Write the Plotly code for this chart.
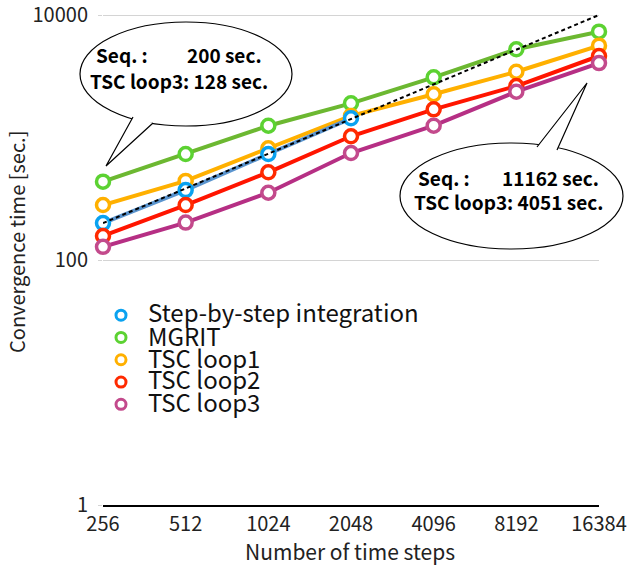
import math
import plotly.graph_objects as go

steps = [256, 512, 1024, 2048, 4096, 8192, 16384]
step_labels = ["256", "512", "1024", "2048", "4096", "8192", "16384"]

step_by_step = [200, 372, 733, 1435]
mgrit = [436, 733, 1248, 1901, 3100, 5250, 7310]
tsc_loop1 = [281, 442, 817, 1500, 2254, 3443, 5615]
tsc_loop2 = [157, 281, 520, 1023, 1698, 2632, 4627]
tsc_loop3 = [128, 202, 354, 747, 1248, 2366, 4051]

trend_x = [256, 16384]
trend_y = [200, 10000]

series_names = ["Step-by-step integration", "MGRIT", "TSC loop1", "TSC loop2", "TSC loop3"]
series_x = [steps[:4], steps, steps, steps, steps]
series_y = [step_by_step, mgrit, tsc_loop1, tsc_loop2, tsc_loop3]
line_colors = ["#5b95cf", "#6cb831", "#ffb000", "#ff1500", "#b62f84"]
marker_colors = ["#0aa2f0", "#5cd232", "#ffb000", "#ff2a00", "#c34a8c"]

FONT = "Noto Sans CJK JP"
W, H = 629, 566
# plot area in pixels; y: value 1 at 505, value 10000 at 15 (122.5 px / decade)
L, R, B = 103, 599, 505
PX_PER_DEC = 122.5
TOP_EXTRA = 3  # px of headroom above the 10000 gridline
T = 15 - TOP_EXTRA
Y_MAX = 4 + TOP_EXTRA / PX_PER_DEC


def px(x):
    return (x - L) / (R - L)


def py(y):
    return (B - y) / (B - T)


fig = go.Figure()

draw_order = [1, 2, 0, 3, 4]
for i in draw_order:
    fig.add_trace(go.Scatter(
        x=series_x[i], y=series_y[i], mode="lines+markers", name=series_names[i],
        showlegend=False,
        line=dict(color=line_colors[i], width=4),
        marker=dict(symbol="circle", size=13, color="white",
                    line=dict(color=marker_colors[i], width=3.5)),
        cliponaxis=False,
    ))
    if i == 0:
        fig.add_trace(go.Scatter(
            x=trend_x, y=trend_y, mode="lines", showlegend=False,
            line=dict(color="black", width=2, dash="4px,3px"),
        ))

# legend symbols (texts are placed as annotations for tight row spacing)
for i in range(5):
    fig.add_trace(go.Scatter(
        x=[None], y=[None], mode="markers", name="", showlegend=True,
        marker=dict(symbol="circle", size=10, color="white",
                    line=dict(color=marker_colors[i], width=3)),
    ))

shapes = []
annotations = []


def bubble(x0, y0, x1, y1, a, tip, b):
    shapes.append(dict(type="circle", xref="paper", yref="paper",
                       x0=px(x0), x1=px(x1), y0=py(y1), y1=py(y0),
                       fillcolor="white", line=dict(color="black", width=1.2),
                       layer="above"))
    path = "M {} {} L {} {} L {} {}".format(px(a[0]), py(a[1]), px(tip[0]), py(tip[1]), px(b[0]), py(b[1]))
    shapes.append(dict(type="path", xref="paper", yref="paper", path=path,
                       fillcolor="white", line=dict(color="black", width=1.2),
                       layer="above"))


bubble(80, 22, 292, 126, (133, 117), (106, 166), (153, 123))
bubble(400, 143, 623, 249, (537, 147), (587, 83), (557, 150))


def label(text, x, y, anchor, size=19, bold=True):
    annotations.append(dict(text=text, xref="paper", yref="paper", x=px(x), y=py(y),
                            xanchor=anchor, yanchor="middle", showarrow=False,
                            font=dict(family=FONT, size=size, color="black",
                                      weight="bold" if bold else "normal")))


label("Seq. :", 94, 55, "left")
label("200 sec.", 264, 55, "right")
label("TSC loop3: 128 sec.", 88, 80, "left")
label("Seq. :", 416, 177, "left")
label("11162 sec.", 601, 177, "right")
label("TSC loop3: 4051 sec.", 412, 202, "left")

legend_rows = [312, 335, 357, 379, 401]
for name, yy in zip(series_names, legend_rows):
    annotations.append(dict(text=name, xref="paper", yref="paper", x=px(146), y=py(yy),
                            xanchor="left", yanchor="middle", showarrow=False,
                            font=dict(family=FONT, size=24, color="#111")))

annotations.append(dict(text="Convergence time [sec.]", xref="paper", yref="paper",
                        x=px(17), y=py(242), textangle=-90, showarrow=False,
                        xanchor="center", yanchor="middle",
                        font=dict(family=FONT, size=20, color="#222")))
annotations.append(dict(text="Number of time steps", xref="paper", yref="paper",
                        x=px(350), y=py(551), showarrow=False,
                        xanchor="center", yanchor="middle",
                        font=dict(family=FONT, size=21, color="#222")))

xr = [math.log10(steps[0]) - 1e-6, math.log10(steps[-1]) + 1e-6]

fig.update_layout(
    width=W, height=H,
    margin=dict(l=L, r=W - R, t=T, b=H - B, pad=0, autoexpand=False),
    paper_bgcolor="white", plot_bgcolor="white",
    font=dict(family=FONT, size=20, color="#222"),
    shapes=shapes, annotations=annotations,
    legend=dict(x=px(101), y=py(299), xanchor="left", yanchor="top",
                bgcolor="rgba(0,0,0,0)", font=dict(family=FONT, size=14.85, color="#222"),
                itemwidth=30, tracegroupgap=0, borderwidth=0),
    xaxis=dict(type="log", range=xr, tickmode="array", automargin=False,
               tickvals=steps, ticktext=step_labels, showgrid=False,
               showline=True, linecolor="black", linewidth=1.5, ticks="",
               ticklabeloverflow="allow",
               zeroline=False, tickfont=dict(family=FONT, size=20, color="#222")),
    yaxis=dict(type="log", range=[-1e-5, Y_MAX], tickmode="array", automargin=False,
               tickvals=[1, 100, 10000], ticktext=["1", "100", "10000"],
               showgrid=True, gridcolor="#d4d4d4", gridwidth=1,
               showline=False, ticks="outside", ticklen=4, tickcolor="#d4d4d4",
               ticklabelstandoff=6, ticklabeloverflow="allow",
               zeroline=False, tickfont=dict(family=FONT, size=20, color="#222")),
)

fig.write_html("out.html")
